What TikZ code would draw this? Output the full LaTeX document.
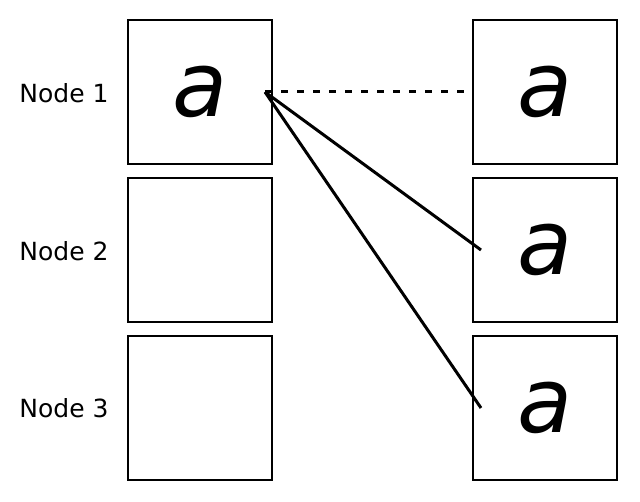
\documentclass[tikz,border=0pt]{standalone}
\usepackage{fontspec}
\setmainfont{DejaVu Sans}
\begin{document}
\begin{tikzpicture}[x=1pt,y=-1pt,
  box/.style={draw,line width=2pt,minimum width=144pt,minimum height=144pt,inner sep=0pt,font=\fontsize{90}{90}\selectfont\itshape},
  lab/.style={font=\fontsize{25}{25}\selectfont},
  conn/.style={line width=3pt}]
\useasboundingbox (0,0) rectangle (640,502);
\node[box] (l1) at (200,92) {a};
\node[box] (l2) at (200,250) {};
\node[box] (l3) at (200,408) {};
\node[box] (r1) at (545,92) {a};
\node[box] (r2) at (545,250) {a};
\node[box] (r3) at (545,408) {a};
\node[lab] (t1) at (64,93) {Node 1};
\node[lab] (t2) at (64,251) {Node 2};
\node[lab] (t3) at (64,408) {Node 3};
\coordinate (s) at (265,92);
\coordinate (e2) at (481,250);
\coordinate (e3) at (481,408);
\draw[conn,dash pattern=on 7pt off 9pt] (s) -- (r1.west);
\draw[conn] (s) -- (e2);
\draw[conn] (s) -- (e3);
\end{tikzpicture}
\end{document}
